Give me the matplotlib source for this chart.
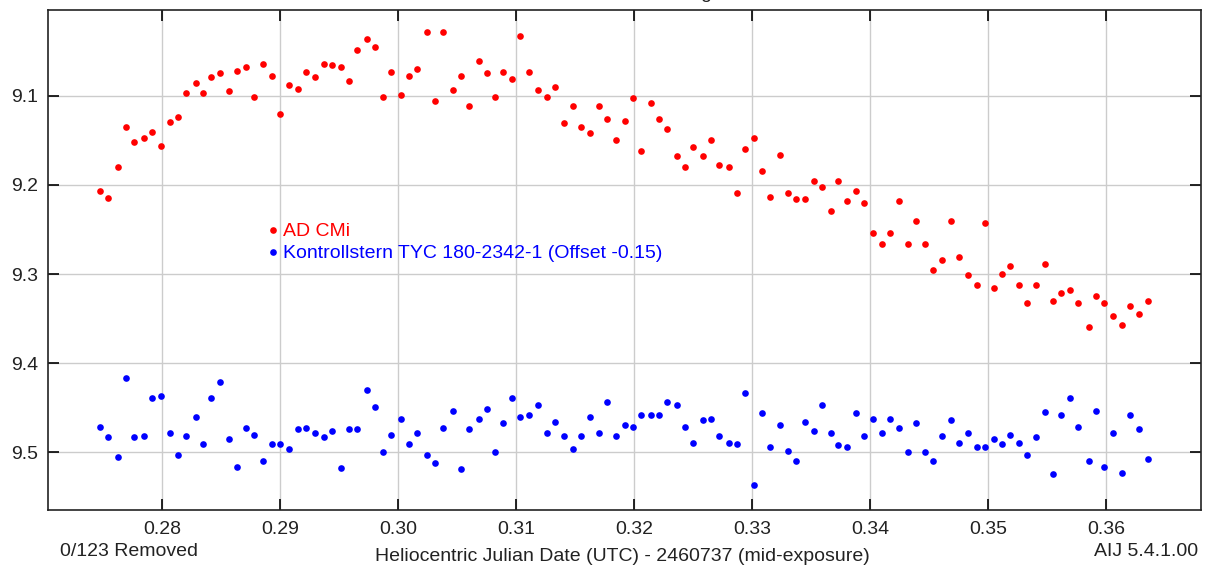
import numpy as np
import matplotlib
matplotlib.use("Agg")
import matplotlib.pyplot as plt
from matplotlib.ticker import FormatStrFormatter

plt.rcParams['font.family'] = ['Liberation Sans', 'DejaVu Sans']

# HJD - 2460737 (mid-exposure)
hjd = [
    0.2747, 0.2754, 0.2762, 0.2769, 0.2776, 0.2784, 0.2791, 0.2799, 0.2806, 0.2813,
    0.2820, 0.2828, 0.2834, 0.2841, 0.2849, 0.2856, 0.2863, 0.2871, 0.2878, 0.2885,
    0.2893, 0.2900, 0.2907, 0.2915, 0.2922, 0.2929, 0.2937, 0.2944, 0.2951, 0.2958,
    0.2965, 0.2973, 0.2980, 0.2987, 0.2994, 0.3002, 0.3009, 0.3016, 0.3024, 0.3031,
    0.3038, 0.3046, 0.3053, 0.3060, 0.3068, 0.3075, 0.3082, 0.3089, 0.3096, 0.3103,
    0.3111, 0.3118, 0.3126, 0.3133, 0.3140, 0.3148, 0.3155, 0.3162, 0.3170, 0.3177,
    0.3184, 0.3192, 0.3199, 0.3206, 0.3214, 0.3221, 0.3228, 0.3236, 0.3243, 0.3250,
    0.3258, 0.3265, 0.3272, 0.3280, 0.3287, 0.3294, 0.3301, 0.3308, 0.3315, 0.3323,
    0.3330, 0.3337, 0.3345, 0.3352, 0.3359, 0.3367, 0.3373, 0.3380, 0.3388, 0.3395,
    0.3402, 0.3410, 0.3417, 0.3424, 0.3432, 0.3439, 0.3446, 0.3453, 0.3461, 0.3468,
    0.3475, 0.3483, 0.3490, 0.3497, 0.3505, 0.3512, 0.3518, 0.3526, 0.3533, 0.3540,
    0.3548, 0.3555, 0.3562, 0.3569, 0.3576, 0.3585, 0.3591, 0.3598, 0.3606, 0.3613,
    0.3620, 0.3628, 0.3635,
]

# AD CMi magnitudes
mag_var = [
    9.207, 9.215, 9.180, 9.135, 9.152, 9.148, 9.141, 9.157, 9.130, 9.124,
    9.097, 9.086, 9.097, 9.079, 9.075, 9.095, 9.072, 9.068, 9.101, 9.065,
    9.078, 9.121, 9.088, 9.092, 9.074, 9.079, 9.065, 9.066, 9.068, 9.084,
    9.049, 9.036, 9.045, 9.101, 9.074, 9.099, 9.078, 9.070, 9.029, 9.106,
    9.029, 9.094, 9.078, 9.112, 9.061, 9.075, 9.101, 9.074, 9.081, 9.033,
    9.074, 9.094, 9.101, 9.090, 9.131, 9.112, 9.135, 9.142, 9.112, 9.126,
    9.150, 9.128, 9.103, 9.162, 9.108, 9.126, 9.137, 9.168, 9.180, 9.158,
    9.168, 9.150, 9.178, 9.180, 9.209, 9.160, 9.148, 9.185, 9.214, 9.166,
    9.209, 9.216, 9.216, 9.196, 9.202, 9.229, 9.196, 9.218, 9.207, 9.220,
    9.254, 9.266, 9.254, 9.218, 9.266, 9.241, 9.266, 9.295, 9.284, 9.241,
    9.281, 9.301, 9.312, 9.243, 9.316, 9.300, 9.291, 9.312, 9.332, 9.312,
    9.289, 9.330, 9.321, 9.318, 9.332, 9.359, 9.325, 9.332, 9.347, 9.357,
    9.336, 9.345, 9.330,
]

# check star (offset -0.15 already applied)
mag_chk = [
    9.471, 9.483, 9.505, 9.416, 9.483, 9.482, 9.439, 9.437, 9.478, 9.503,
    9.482, 9.460, 9.490, 9.439, 9.421, 9.485, 9.516, 9.473, 9.480, 9.510,
    9.490, 9.490, 9.496, 9.474, 9.473, 9.478, 9.483, 9.476, 9.517, 9.474,
    9.474, 9.430, 9.449, 9.499, 9.480, 9.462, 9.490, 9.478, 9.503, 9.512,
    9.473, 9.453, 9.519, 9.474, 9.462, 9.451, 9.499, 9.467, 9.439, 9.460,
    9.458, 9.447, 9.478, 9.466, 9.482, 9.496, 9.482, 9.460, 9.478, 9.444,
    9.482, 9.469, 9.471, 9.458, 9.458, 9.458, 9.444, 9.447, 9.471, 9.489,
    9.464, 9.462, 9.482, 9.489, 9.490, 9.433, 9.537, 9.456, 9.494, 9.469,
    9.498, 9.510, 9.466, 9.476, 9.447, 9.478, 9.492, 9.494, 9.456, 9.482,
    9.462, 9.478, 9.462, 9.473, 9.499, 9.467, 9.499, 9.510, 9.482, 9.464,
    9.489, 9.478, 9.494, 9.494, 9.485, 9.490, 9.480, 9.489, 9.503, 9.483,
    9.455, 9.524, 9.458, 9.439, 9.471, 9.510, 9.453, 9.516, 9.478, 9.523,
    9.458, 9.474, 9.507,
]

x_ticks = [0.28, 0.29, 0.30, 0.31, 0.32, 0.33, 0.34, 0.35, 0.36]
y_ticks = [9.1, 9.2, 9.3, 9.4, 9.5]
labels = ["AD CMi", "Kontrollstern TYC 180-2342-1 (Offset -0.15)"]

RED = "#ff0000"
BLUE = "#0000ff"
FS = 14

fig = plt.figure(figsize=(12.10, 5.66), dpi=100)
ax = fig.add_axes([0.0397, 0.0984, 0.9526, 0.8834])

ax.plot(hjd, mag_var, "o", color=RED, ms=4.8, mew=0, zorder=3)
ax.plot(hjd, mag_chk, "o", color=BLUE, ms=4.8, mew=0, zorder=3)

ax.set_xlim(0.2703, 0.3680)
ax.set_ylim(9.5649, 9.0043)
ax.set_xticks(x_ticks)
ax.set_yticks(y_ticks)
ax.xaxis.set_major_formatter(FormatStrFormatter("%.2f"))
ax.yaxis.set_major_formatter(FormatStrFormatter("%.1f"))
ax.grid(True, color="#cccccc", lw=1.0, zorder=0)
ax.set_axisbelow(True)
ax.tick_params(direction="in", length=8, width=1.2, top=True, right=True,
               labelsize=FS, colors="black", labelcolor="#222222")
ax.tick_params(axis="x", pad=7.5)
ax.tick_params(axis="y", pad=7)
for s in ax.spines.values():
    s.set_linewidth(1.2)
    s.set_color("#222222")

# legend drawn inside the plot, marker + coloured text
leg_y = [0.5606, 0.5160]
for lab, col, yy in zip(labels, [RED, BLUE], leg_y):
    ax.plot([0.1952], [yy], "o", color=col, ms=4.8, mew=0, transform=ax.transAxes)
    ax.text(0.2039, yy - 0.012, lab, color=col, fontsize=FS, va="baseline",
            ha="left", transform=ax.transAxes)

fig.text(0.5145, 1 - 556.7 / 566, "Heliocentric Julian Date (UTC) - 2460737 (mid-exposure)",
         ha="center", va="center", fontsize=FS, color="#222222")
fig.text(60 / 1210, 1 - 552 / 566, "0/123 Removed", ha="left", va="center",
         fontsize=FS, color="#222222")
fig.text(1198 / 1210, 1 - 552 / 566, "AIJ 5.4.1.00", ha="right", va="center",
         fontsize=FS, color="#222222")
# title sits above the visible area, only its descender shows
fig.text(706 / 1210, 1 + 1.5 / 566, "g", ha="center", va="baseline",
         fontsize=FS, color="#222222")

fig.savefig("out.png", dpi=100)
